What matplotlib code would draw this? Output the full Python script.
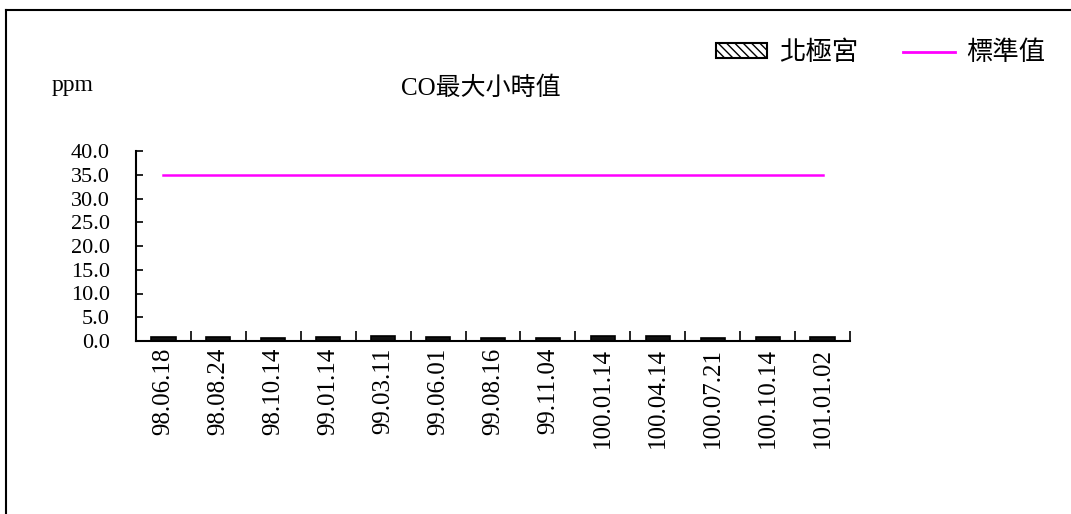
import matplotlib
matplotlib.use("Agg")
import matplotlib.pyplot as plt
from matplotlib.patches import Patch
from matplotlib.lines import Line2D
import numpy as np

plt.rcParams['font.family'] = ['Liberation Serif', 'Noto Sans CJK TC']
plt.rcParams['hatch.linewidth'] = 1.0

dates = ['98.06.18', '98.08.24', '98.10.14', '99.01.14', '99.03.11', '99.06.01',
         '99.08.16', '99.11.04', '100.01.14', '100.04.14', '100.07.21', '100.10.14',
         '101.01.02']
co_max_hourly = [0.9, 0.9, 0.7, 0.8, 1.0, 0.8, 0.6, 0.7, 1.0, 1.0, 0.7, 0.8, 0.9]
standard = [35] * len(dates)
yticks = [0, 5, 10, 15, 20, 25, 30, 35, 40]

fig = plt.figure(figsize=(10.71, 5.14), dpi=100)
ax = fig.add_axes([136 / 1071, 1 - 341 / 514, (850 - 136) / 1071, (341 - 151) / 514])

x = np.arange(len(dates))
ax.bar(x, co_max_hourly, width=0.44, facecolor='#111111', edgecolor='black',
       linewidth=1.2)
ax.plot(x, standard, color='#ff00ff', linewidth=1.8)

ax.set_xlim(-0.5, len(dates) - 0.5)
ax.set_ylim(0, 40)
ax.set_yticks(yticks)
ax.set_yticklabels([f'{v:.1f}' for v in yticks], fontsize=16)
ax.set_xticks(x)
ax.set_xticklabels(dates, rotation=90, fontsize=18, va='top')
ax.set_xticks(np.arange(-0.5, len(dates)), minor=True)
ax.tick_params(axis='x', which='major', length=0, pad=5)
ax.tick_params(axis='x', which='minor', length=7, width=1.2, direction='in')
ax.tick_params(axis='y', length=5, width=1.2, direction='in', pad=19)
for s in ['top', 'right']:
    ax.spines[s].set_visible(False)
for s in ['left', 'bottom']:
    ax.spines[s].set_linewidth(1.5)

fig.text(481 / 1071, 1 - 88 / 514, 'CO最大小時值', ha='center', va='center', fontsize=18)
fig.text(52 / 1071, 1 - 86 / 514, 'ppm', ha='left', va='center', fontsize=17)

handles = [Patch(facecolor='white', edgecolor='black', linewidth=1.5, hatch='\\\\\\\\'),
           Line2D([0], [0], color='#ff00ff', linewidth=2)]
fig.legend(handles, ['北極宮', '標準值'], loc='center right',
           bbox_to_anchor=(1064 / 1071, 1 - 53 / 514), ncol=2, frameon=False,
           fontsize=19, handlelength=1.95, handleheight=0.5, columnspacing=1.7,
           handletextpad=0.45, borderpad=0.2)

# outer frame along the top and left edges
fig.add_artist(Line2D([6 / 1071, 1], [1 - 10 / 514, 1 - 10 / 514], color='black',
                      linewidth=1.5, transform=fig.transFigure))
fig.add_artist(Line2D([6 / 1071, 6 / 1071], [0, 1 - 10 / 514], color='black',
                      linewidth=1.5, transform=fig.transFigure))

fig.savefig('out.png', dpi=100)
